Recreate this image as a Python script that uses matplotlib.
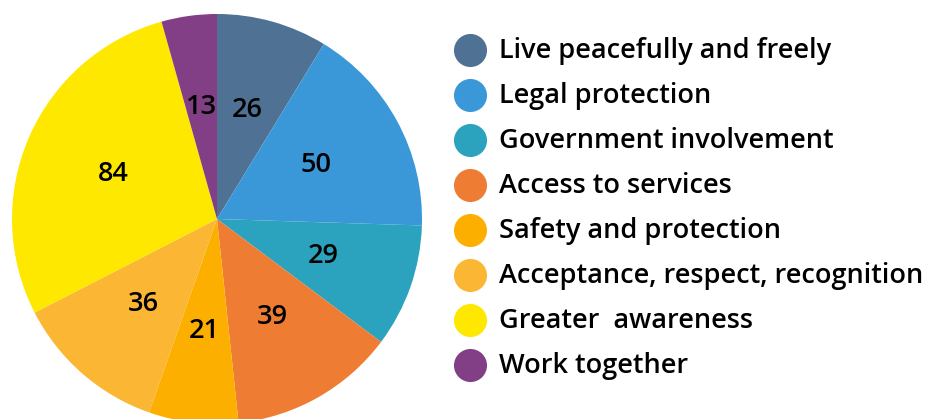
import matplotlib.pyplot as plt

categories = [
    "Live peacefully and freely",
    "Legal protection",
    "Government involvement",
    "Access to services",
    "Safety and protection",
    "Acceptance, respect, recognition",
    "Greater  awareness",
    "Work together",
]
counts = [26, 50, 29, 39, 21, 36, 84, 13]
colors = ["#4f7194", "#3a98d9", "#2ba3be", "#ee7d33",
          "#fdaf00", "#fbb634", "#ffe800", "#823f85"]

plt.rcParams["font.family"] = ["Open Sans", "DejaVu Sans"]

W, H = 933, 419
fig = plt.figure(figsize=(W / 100, H / 100), dpi=100)

# pie: centre at (217, 219) px, radius 205 px
cx, cy, r = 217, 219, 205
ax = fig.add_axes([(cx - r) / W, (H - cy - r) / H, 2 * r / W, 2 * r / H])
total = sum(counts)
ax.pie(counts, colors=colors, startangle=90, counterclock=False,
       radius=1, autopct=lambda p: "{:d}".format(round(p * total / 100)),
       pctdistance=0.55,
       textprops={"fontsize": 19.5, "color": "black", "fontweight": "semibold"},
       wedgeprops={"linewidth": 0})
ax.set_xlim(-1, 1)
ax.set_ylim(-1, 1)
ax.set_aspect("equal")
ax.axis("off")

# legend drawn by hand in pixel coordinates
lg = fig.add_axes([0, 0, 1, 1])
lg.set_xlim(0, W)
lg.set_ylim(H, 0)
lg.axis("off")
for i, (name, col) in enumerate(zip(categories, colors)):
    y = 50 + 45 * i
    lg.scatter(470, y, s=33 ** 2 * 0.52, color=col, linewidths=0)
    lg.text(499, y + 1, name, fontsize=19.5, fontweight="semibold",
            va="center", ha="left")

fig.savefig("out.png", dpi=100)
